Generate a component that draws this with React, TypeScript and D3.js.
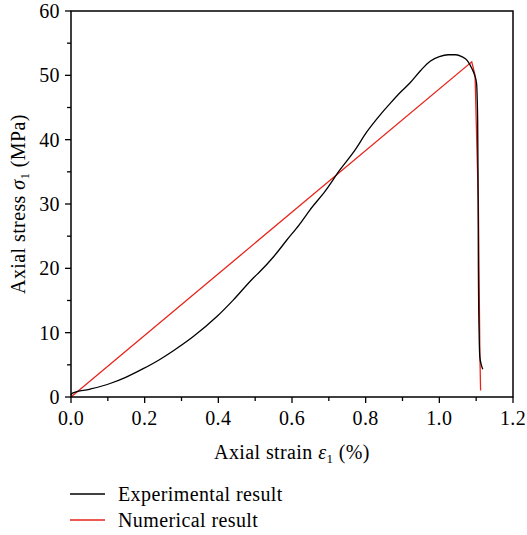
import React from "react";
import * as d3 from "d3";

const expStrain = [0.0, 0.004, 0.05, 0.106, 0.15, 0.196, 0.24, 0.278, 0.332, 0.396, 0.441, 0.495, 0.513, 0.55, 0.586, 0.62, 0.649, 0.69, 0.73, 0.77, 0.803, 0.84, 0.866, 0.895, 0.92, 0.95, 0.975, 1.0, 1.024, 1.045, 1.061, 1.076, 1.088, 1.096, 1.101, 1.103, 1.104, 1.105, 1.106, 1.108, 1.11, 1.114, 1.118];
const expStress = [0.3, 0.6, 1.2, 2.1, 3.1, 4.4, 5.8, 7.2, 9.4, 12.5, 15.1, 18.5, 19.5, 21.8, 24.4, 26.8, 29.1, 32.0, 35.3, 38.3, 41.2, 43.9, 45.6, 47.4, 48.8, 50.8, 52.2, 52.9, 53.2, 53.2, 52.9, 52.3, 51.1, 50.0, 48.8, 46.0, 43.0, 35.0, 20.0, 10.0, 6.2, 5.0, 4.3];

const numStrain = [0.0, 1.088, 1.097, 1.106, 1.11, 1.112];
const numStress = [0.0, 52.1, 50.0, 30.0, 7.0, 1.0];

const xTicks = [0, 0.2, 0.4, 0.6, 0.8, 1.0, 1.2];
const xMinor = [0.1, 0.3, 0.5, 0.7, 0.9, 1.1];
const yTicks = [0, 10, 20, 30, 40, 50, 60];
const yMinor = [5, 15, 25, 35, 45, 55];

const legendLabels = ["Experimental result", "Numerical result"];
const colors = ["#000000", "#e8251b"];

export default function App() {
  const left = 71, right = 513, top = 11, bottom = 397;
  const x = d3.scaleLinear().domain([0, 1.2]).range([left, right]);
  const y = d3.scaleLinear().domain([0, 60]).range([bottom, top]);
  const line = d3.line<[number, number]>().x(d => x(d[0])).y(d => y(d[1]));
  const expData = expStrain.map((s, i) => [s, expStress[i]] as [number, number]);
  const numData = numStrain.map((s, i) => [s, numStress[i]] as [number, number]);
  const font = "'Liberation Serif', 'Times New Roman', serif";
  const fs = 20;
  const ls = 0.4;
  return (
    <svg width={527} height={535} style={{ position: "absolute", left: 0, top: 0 }} fontFamily={font}>
      <rect x={0} y={0} width={527} height={535} fill="#fff" />
      <path d={line(numData) || ""} fill="none" stroke={colors[1]} strokeWidth={1.3} />
      <path d={line.curve(d3.curveMonotoneX)(expData) || ""} fill="none" stroke={colors[0]} strokeWidth={1.3} />
      <rect x={left} y={top} width={right - left} height={bottom - top} fill="none" stroke="#000" strokeWidth={1.5} />
      {xTicks.map(t => (
        <g key={"x" + t}>
          <line x1={x(t)} x2={x(t)} y1={bottom} y2={bottom + 6} stroke="#000" strokeWidth={1.3} />
          <text x={x(t)} y={425} textAnchor="middle" fontSize={fs} letterSpacing={ls}>{t.toFixed(1)}</text>
        </g>
      ))}
      {xMinor.map(t => (
        <line key={"xm" + t} x1={x(t)} x2={x(t)} y1={bottom} y2={bottom + 4} stroke="#000" strokeWidth={1.3} />
      ))}
      {yTicks.map(t => (
        <g key={"y" + t}>
          <line x1={left - 6} x2={left} y1={y(t)} y2={y(t)} stroke="#000" strokeWidth={1.3} />
          <text x={60} y={y(t) + 7} textAnchor="end" fontSize={fs} letterSpacing={ls}>{t}</text>
        </g>
      ))}
      {yMinor.map(t => (
        <line key={"ym" + t} x1={left - 4} x2={left} y1={y(t)} y2={y(t)} stroke="#000" strokeWidth={1.3} />
      ))}
      <text x={292} y={459} textAnchor="middle" fontSize={fs} letterSpacing={ls}>
        Axial strain <tspan fontStyle="italic">ε</tspan><tspan fontSize={13} dy={4}>1</tspan><tspan dy={-4}> (%)</tspan>
      </text>
      <text transform={`translate(25,${(top + bottom) / 2}) rotate(-90)`} textAnchor="middle" fontSize={fs} letterSpacing={ls}>
        Axial stress <tspan fontStyle="italic">σ</tspan><tspan fontSize={13} dy={4}>1</tspan><tspan dy={-4}> (MPa)</tspan>
      </text>
      {legendLabels.map((l, i) => (
        <g key={l}>
          <line x1={70} x2={105} y1={494 + i * 26} y2={494 + i * 26} stroke={colors[i]} strokeWidth={1.3} />
          <text x={118} y={501 + i * 26} fontSize={fs} letterSpacing={ls}>{l}</text>
        </g>
      ))}
    </svg>
  );
}
